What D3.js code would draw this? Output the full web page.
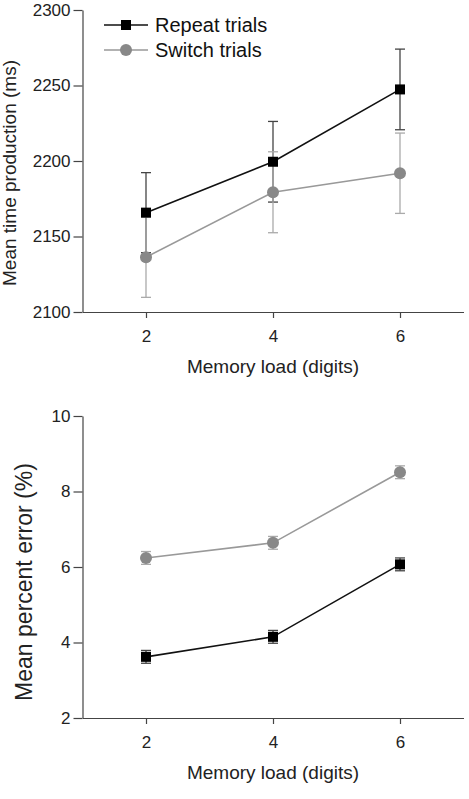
<!DOCTYPE html>
<html lang="en">
<head>
    <meta charset="UTF-8"/>
    <title>Memory load and time production</title>
    <script src="https://d3js.org/d3.v7.min.js"></script>
    <style>
        body { margin: 0; background: #fff; }
        text { font-family: "Liberation Sans", Arial, sans-serif; }
    </style>
</head>
<body>
    <div id="chart"></div>

    <script>
        // memory load (digits)
        var loads = [2, 4, 6];

        // top panel: mean time production (ms)
        var timeRepeat = [2165.8, 2199.5, 2247.4];
        var timeRepeatSE = [26.5, 26.7, 26.7];
        var timeSwitch = [2136.3, 2179.3, 2191.9];
        var timeSwitchSE = [26.6, 26.8, 26.6];
        var timeTicks = [2100, 2150, 2200, 2250, 2300];

        // bottom panel: mean percent error (%)
        var errRepeat = [3.62, 4.15, 6.07];
        var errRepeatSE = [0.17, 0.17, 0.17];
        var errSwitch = [6.24, 6.64, 8.51];
        var errSwitchSE = [0.17, 0.17, 0.17];
        var errTicks = [2, 4, 6, 8, 10];

        var xTicks = [2, 4, 6];
        var seriesNames = ["Repeat trials", "Switch trials"];

        var w = 469;
        var h = 799;

        var svg = d3.select("#chart")
                    .append("svg")
                    .attr("width", w)
                    .attr("height", h);

        function drawPanel(opts) {
            var g = svg.append("g");

            var xScale = d3.scaleLinear()
                            .domain([1, 7])
                            .range([82.5, 463.5]);

            var yScale = d3.scaleLinear()
                            .domain(opts.domain)
                            .range([opts.bottom, opts.top]);

            // x axis
            var xAxis = g.append("g")
               .attr("transform", "translate(0," + opts.bottom + ")")
               .call(d3.axisBottom(xScale).tickValues(xTicks).tickFormat(d3.format("d"))
                     .tickSize(6).tickPadding(12).tickSizeOuter(0));

            // y axis
            var yAxis = g.append("g")
               .attr("transform", "translate(82.5,0)")
               .call(d3.axisLeft(yScale).tickValues(opts.ticks).tickFormat(d3.format("d"))
                     .tickSize(9).tickPadding(3).tickSizeOuter(0));

            [xAxis, yAxis].forEach(function(a) {
                a.select(".domain").attr("stroke", "#444").attr("stroke-width", 1.2);
                a.selectAll(".tick line").attr("stroke", "#444").attr("stroke-width", 1.2);
                a.selectAll(".tick text")
                    .attr("font-size", "17px")
                    .attr("fill", "#222")
                    .attr("font-family", "'Liberation Sans', Arial, sans-serif");
            });

            // x label
            g.append("text")
               .attr("x", 273)
               .attr("y", opts.bottom + 61)
               .attr("text-anchor", "middle")
               .attr("font-size", "19px")
               .attr("fill", "#222")
               .text("Memory load (digits)");

            // y label
            g.append("text")
               .attr("transform", "rotate(-90)")
               .attr("x", -opts.labelY)
               .attr("y", opts.labelX)
               .attr("text-anchor", "middle")
               .attr("font-size", opts.labelSize)
               .attr("fill", "#222")
               .text(opts.label);

            var series = [
                { vals: opts.repeat, se: opts.repeatSE, line: "#111", bar: "#444", mark: "square" },
                { vals: opts.sw, se: opts.swSE, line: "#999", bar: "#aaa", mark: "circle" }
            ];

            // error bars
            series.forEach(function(s) {
                var eb = g.append("g").attr("stroke", s.bar).attr("stroke-width", 1.3);
                loads.forEach(function(x, i) {
                    var cx = xScale(x);
                    var y0 = yScale(s.vals[i] - s.se[i]);
                    var y1 = yScale(s.vals[i] + s.se[i]);
                    eb.append("line").attr("x1", cx).attr("x2", cx).attr("y1", y0).attr("y2", y1);
                    eb.append("line").attr("x1", cx - 5).attr("x2", cx + 5).attr("y1", y0).attr("y2", y0);
                    eb.append("line").attr("x1", cx - 5).attr("x2", cx + 5).attr("y1", y1).attr("y2", y1);
                });
            });

            var line = d3.line()
                .x(function(d) { return xScale(d[0]); })
                .y(function(d) { return yScale(d[1]); });

            // lines
            series.forEach(function(s) {
                g.append("path")
                   .datum(loads.map(function(x, i) { return [x, s.vals[i]]; }))
                   .attr("d", line)
                   .attr("fill", "none")
                   .attr("stroke", s.line)
                   .attr("stroke-width", 1.6);
            });

            // markers
            series.forEach(function(s) {
                if (s.mark === "square") {
                    g.selectAll(null)
                       .data(loads.map(function(x, i) { return [x, s.vals[i]]; }))
                       .enter()
                       .append("rect")
                       .attr("x", function(d) { return xScale(d[0]) - 5; })
                       .attr("y", function(d) { return yScale(d[1]) - 5; })
                       .attr("width", 10)
                       .attr("height", 10)
                       .attr("fill", "#000");
                } else {
                    g.selectAll(null)
                       .data(loads.map(function(x, i) { return [x, s.vals[i]]; }))
                       .enter()
                       .append("circle")
                       .attr("cx", function(d) { return xScale(d[0]); })
                       .attr("cy", function(d) { return yScale(d[1]); })
                       .attr("r", 6)
                       .attr("fill", "#888");
                }
            });
        }

        drawPanel({
            domain: [2100, 2300], ticks: timeTicks, top: 10, bottom: 312,
            repeat: timeRepeat, repeatSE: timeRepeatSE, sw: timeSwitch, swSE: timeSwitchSE,
            label: "Mean time production (ms)", labelX: 16, labelY: 173, labelSize: "19px"
        });

        drawPanel({
            domain: [2, 10], ticks: errTicks, top: 416, bottom: 718,
            repeat: errRepeat, repeatSE: errRepeatSE, sw: errSwitch, swSE: errSwitchSE,
            label: "Mean percent error (%)", labelX: 32, labelY: 582, labelSize: "23px"
        });

        // legend
        var legend = svg.append("g");
        var legendRows = [
            { name: seriesNames[0], line: "#111", fill: "#000", mark: "square", y: 25 },
            { name: seriesNames[1], line: "#999", fill: "#888", mark: "circle", y: 50 }
        ];
        legendRows.forEach(function(r) {
            legend.append("line")
               .attr("x1", 104).attr("x2", 148)
               .attr("y1", r.y).attr("y2", r.y)
               .attr("stroke", r.line).attr("stroke-width", 1.6);
            if (r.mark === "square") {
                legend.append("rect")
                   .attr("x", 121).attr("y", r.y - 5)
                   .attr("width", 10).attr("height", 10)
                   .attr("fill", r.fill);
            } else {
                legend.append("circle")
                   .attr("cx", 126).attr("cy", r.y).attr("r", 6)
                   .attr("fill", r.fill);
            }
            legend.append("text")
               .attr("x", 155)
               .attr("y", r.y)
               .attr("dy", "0.35em")
               .attr("font-size", "20px")
               .attr("fill", "#111")
               .text(r.name);
        });
    </script>
</body>
</html>
